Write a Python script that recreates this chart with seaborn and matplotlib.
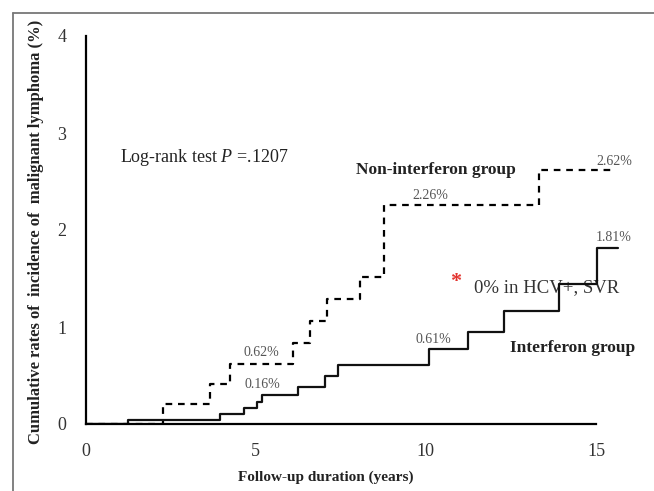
import numpy as np
import pandas as pd
import matplotlib
matplotlib.use("Agg")
import matplotlib.pyplot as plt
from matplotlib.lines import Line2D
import seaborn as sns

# Kaplan-Meier style cumulative incidence (%) by follow-up year
ifn_years = [0, 1.24, 3.96, 4.64, 5.03, 5.17, 6.25, 7.02, 7.43, 10.1, 11.23, 12.3, 13.9, 15.03, 15.66]
ifn_rates = [0, 0.04, 0.10, 0.16, 0.23, 0.30, 0.38, 0.49, 0.61, 0.77, 0.95, 1.16, 1.44, 1.81, 1.81]

non_ifn_years = [0, 2.28, 3.66, 4.25, 6.1, 6.58, 7.09, 8.05, 8.77, 13.31, 15.6]
non_ifn_rates = [0, 0.21, 0.41, 0.62, 0.84, 1.06, 1.29, 1.52, 2.26, 2.62, 2.62]

x_ticks = [0, 5, 10, 15]
y_ticks = [0, 1, 2, 3, 4]

sns.set_style("white")
plt.rcParams["font.family"] = ["Liberation Serif", "DejaVu Serif"]
plt.rcParams["mathtext.fontset"] = "custom"
plt.rcParams["mathtext.it"] = "Liberation Serif:italic"
plt.rcParams["mathtext.rm"] = "Liberation Serif"

W, H = 654, 491
fig = plt.figure(figsize=(W / 100, H / 100), dpi=100)

# axes placed so that x=0 sits at px 85.7 and y=0 at px 424
x0_px, px_per_year = 85.7, 34.02
y0_px, px_per_unit = 424.0, 97.0
xmax, ymax = 16.5, 4.2
left = x0_px / W
width = xmax * px_per_year / W
bottom = (H - y0_px) / H
height = ymax * px_per_unit / H
ax = fig.add_axes([left, bottom, width, height])
ax.set_xlim(0, xmax)
ax.set_ylim(0, ymax)

df_ifn = pd.DataFrame({"year": ifn_years, "rate": ifn_rates})
df_non = pd.DataFrame({"year": non_ifn_years, "rate": non_ifn_rates})

sns.lineplot(data=df_non, x="year", y="rate", drawstyle="steps-post", estimator=None,
             color="black", lw=1.6, dashes=False, ax=ax, linestyle=(0, (3, 2.6)))
sns.lineplot(data=df_ifn, x="year", y="rate", drawstyle="steps-post", estimator=None,
             color="#111111", lw=1.6, ax=ax)

for s in ["top", "right"]:
    ax.spines[s].set_visible(False)
ax.spines["left"].set_bounds(0, 4)
ax.spines["bottom"].set_bounds(0, 15)
for s in ["left", "bottom"]:
    ax.spines[s].set_linewidth(1.6)
    ax.spines[s].set_color("black")
    ax.spines[s].set_zorder(5)

ax.set_xticks(x_ticks)
ax.set_yticks(y_ticks)
ax.set_xticklabels([str(t) for t in x_ticks])
ax.set_yticklabels([str(t) for t in y_ticks])
ax.tick_params(axis="both", direction="inout", length=4, width=3, color="black",
               labelsize=13, labelcolor="#333333")
ax.tick_params(axis="y", pad=12)
ax.tick_params(axis="x", pad=12)

ax.set_xlabel("")
ax.set_ylabel("")
fig.text(326 / W, 1 - 477 / H, "Follow-up duration (years)", ha="center", va="center",
         fontsize=11, fontweight="bold", color="#222222")
fig.text(36.5 / W, 1 - 232 / H, "Cumulative rates of  incidence of  malignant lymphoma (%)",
         ha="center", va="center", rotation=90, fontsize=12, fontweight="bold", color="#222222")

ax.text(1.01, 2.75, r"Log-rank test $\it{P}$ =.1207", ha="left", va="center",
        fontsize=13, color="#222222")
ax.text(7.95, 2.62, "Non-interferon group", ha="left", va="center",
        fontsize=12.5, fontweight="bold", color="#222222")
ax.text(12.47, 0.78, "Interferon group", ha="left", va="center",
        fontsize=12.5, fontweight="bold", color="#222222")

pct_color = "#555555"
ax.text(10.12, 2.36, "2.26%", ha="center", va="center", fontsize=10, color=pct_color)
ax.text(15.53, 2.71, "2.62%", ha="center", va="center", fontsize=10, color=pct_color)
ax.text(15.53, 1.92, "1.81%", ha="center", va="center", fontsize=10, color=pct_color)
ax.text(5.15, 0.74, "0.62%", ha="center", va="center", fontsize=10, color=pct_color)
ax.text(5.18, 0.41, "0.16%", ha="center", va="center", fontsize=10, color=pct_color)
ax.text(10.21, 0.87, "0.61%", ha="center", va="center", fontsize=10, color=pct_color)

ax.text(10.86, 1.46, "*", ha="center", va="center", fontsize=16, fontweight="bold",
        color="#e3342f")
ax.text(11.41, 1.41, "0% in HCV+, SVR", ha="left", va="center", fontsize=13.5,
        color="#333333", zorder=1)

# outer frame (top and left edges)
fig.add_artist(Line2D([13 / W, 13 / W], [0, 1 - 13 / H], transform=fig.transFigure,
                      color="#777777", lw=1.3))
fig.add_artist(Line2D([13 / W, 1], [1 - 13 / H, 1 - 13 / H], transform=fig.transFigure,
                      color="#777777", lw=1.3))

fig.savefig("out.png", dpi=100, facecolor="white")
